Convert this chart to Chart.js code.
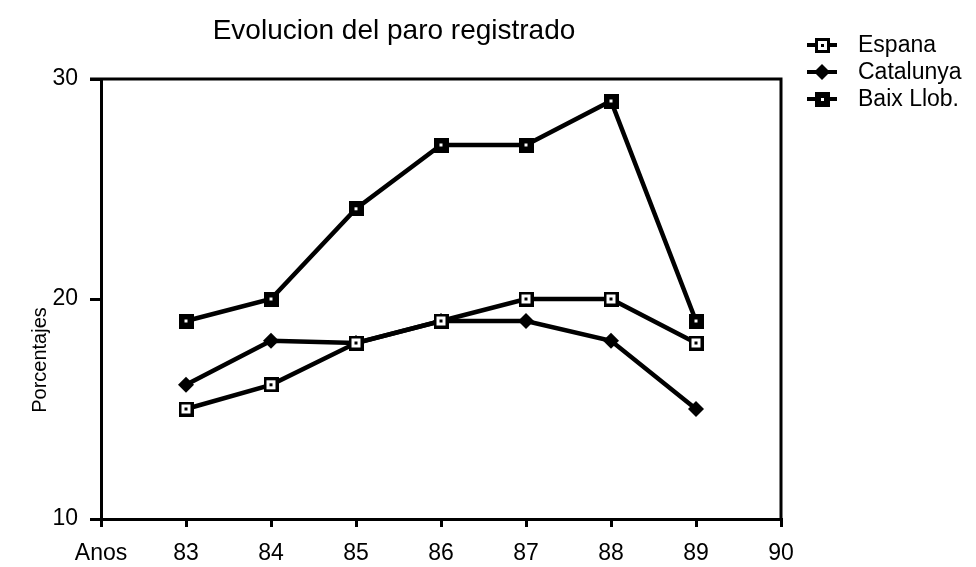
<!DOCTYPE html>
<html>
<head>
<meta charset="utf-8">
<script src="https://cdn.jsdelivr.net/npm/chart.js@4"></script>
<style>
  html, body { margin: 0; padding: 0; background: #fff; }
  #wrap { width: 976px; height: 567px; }
</style>
</head>
<body>
<div id="wrap"><canvas id="paroChart" width="976" height="567"></canvas></div>
<script>
// data
const years = [83, 84, 85, 86, 87, 88, 89];
const espana = [15, 16.1, 18, 19, 20, 20, 18];
const catalunya = [16.1, 18.1, 18, 19, 19, 18.1, 15];
const baixLlob = [19, 20, 24.1, 27, 27, 29, 19];
const seriesNames = ["Espana", "Catalunya", "Baix Llob."];
const xTickFirstLabel = "Anos";

const FONT = "'Liberation Sans', Arial, Helvetica, sans-serif";

// marker images
function squareMarker(hollow) {
    const c = document.createElement("canvas");
    c.width = 15; c.height = 15;
    const g = c.getContext("2d");
    g.fillStyle = "#000";
    g.fillRect(0, 0, 15, 15);
    g.fillStyle = "#fff";
    if (hollow) {
        g.fillRect(3, 3, 9, 9);
        g.fillStyle = "#000";
        g.fillRect(6, 6, 3, 3);
    } else {
        g.fillRect(6, 6, 3, 3);
    }
    return c;
}
const espanaMarker = squareMarker(true);
const baixMarker = squareMarker(false);

function pts(vals) {
    return years.map((y, i) => ({ x: y, y: vals[i] }));
}

const boxAndText = {
    id: "boxAndText",
    afterDraw(chart) {
        const ctx = chart.ctx;
        const a = chart.chartArea;
        ctx.save();
        ctx.strokeStyle = "#000";
        ctx.lineWidth = 3;
        ctx.beginPath();
        ctx.moveTo(a.left - 11, a.top);
        ctx.lineTo(a.right, a.top);
        ctx.lineTo(a.right, a.bottom);
        ctx.stroke();

        ctx.fillStyle = "#000";
        ctx.textAlign = "center";
        ctx.textBaseline = "middle";
        ctx.font = "28px " + FONT;
        ctx.fillText("Evolucion del paro registrado", 394, 31);

        ctx.save();
        ctx.translate(40, 360);
        ctx.rotate(-Math.PI / 2);
        ctx.font = "20px " + FONT;
        ctx.fillText("Porcentajes", 0, 0);
        ctx.restore();

        // legend
        ctx.textAlign = "left";
        ctx.font = "23px " + FONT;
        chart.data.datasets.forEach((ds, i) => {
            const y = 45 + i * 27;
            ctx.lineWidth = 4;
            ctx.beginPath();
            ctx.moveTo(807, y);
            ctx.lineTo(837, y);
            ctx.stroke();
            if (ds.pointStyle === "rectRot") {
                ctx.beginPath();
                ctx.moveTo(822, y - 8);
                ctx.lineTo(830, y);
                ctx.lineTo(822, y + 8);
                ctx.lineTo(814, y);
                ctx.closePath();
                ctx.fill();
            } else {
                ctx.drawImage(ds.pointStyle, 815, y - 7);
            }
            ctx.fillText(ds.label, 858, y + 1);
        });
        ctx.restore();
    }
};

const ctx = document.getElementById("paroChart").getContext("2d");
const paroChart = new Chart(ctx, {
    type: "line",
    data: {
        datasets: [{
            label: seriesNames[0],
            data: pts(espana),
            borderColor: "#000",
            borderWidth: 4.5,
            pointStyle: espanaMarker,
            tension: 0
        }, {
            label: seriesNames[1],
            data: pts(catalunya),
            borderColor: "#000",
            backgroundColor: "#000",
            borderWidth: 4.5,
            pointStyle: "rectRot",
            pointRadius: 8,
            pointBorderWidth: 0,
            tension: 0
        }, {
            label: seriesNames[2],
            data: pts(baixLlob),
            borderColor: "#000",
            borderWidth: 4.5,
            pointStyle: baixMarker,
            tension: 0
        }]
    },
    options: {
        responsive: false,
        animation: false,
        layout: { padding: { top: 79, right: 195, left: 0, bottom: 0 } },
        plugins: {
            legend: { display: false },
            tooltip: { enabled: false }
        },
        scales: {
            x: {
                type: "linear",
                min: 82,
                max: 90,
                afterFit: s => { s.height = 48; },
                ticks: {
                    stepSize: 1,
                    color: "#000",
                    padding: 13,
                    font: { family: FONT, size: 23 },
                    callback: v => v === 82 ? xTickFirstLabel : String(v)
                },
                grid: { drawOnChartArea: false, drawTicks: true, tickLength: 8, color: "#000", lineWidth: 3 },
                border: { display: true, color: "#000", width: 3 }
            },
            y: {
                min: 10,
                max: 30,
                afterFit: s => { s.width = 101; },
                ticks: {
                    stepSize: 10,
                    color: "#000",
                    padding: 12,
                    font: { family: FONT, size: 23 }
                },
                grid: { drawOnChartArea: false, drawTicks: true, tickLength: 11, color: "#000", lineWidth: 3 },
                border: { display: true, color: "#000", width: 3 }
            }
        }
    },
    plugins: [boxAndText]
});
</script>
</body>
</html>
